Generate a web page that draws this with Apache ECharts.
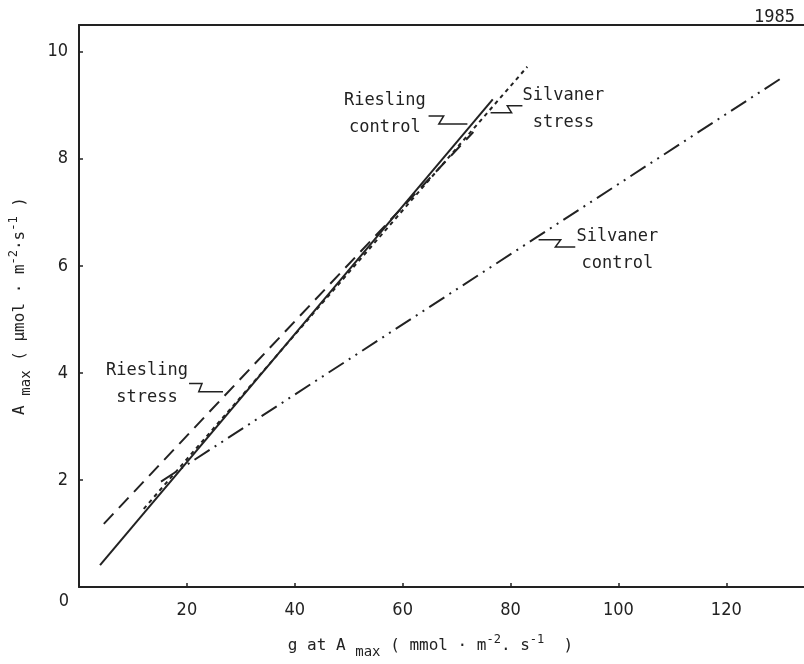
<!DOCTYPE html>
<html>
<head>
<meta charset="utf-8">
<script src="https://cdn.jsdelivr.net/npm/echarts@6/dist/echarts.min.js"></script>
<style>
  html, body { margin: 0; padding: 0; background: #fff; }
  #chart { width: 804px; height: 664px; }
</style>
</head>
<body>
<div id="chart"></div>
<script>
// line end points [g, Amax]
const rieslingControl = [[3.9, 0.41], [76.7, 9.11]];
const rieslingStress = [[4.6, 1.18], [73.1, 8.5]];
const silvanerStress = [[12, 1.46], [83.1, 9.72]];
const silvanerControl = [[15.2, 1.97], [130.4, 9.52]];

// annotation labels: text, centre [g, Amax], leader points
const labelTexts = ['Riesling\ncontrol', 'Silvaner\nstress', 'Silvaner\ncontrol', 'Riesling\nstress'];
const labelCentres = [[56.7, 8.84], [89.8, 8.93], [99.8, 6.29], [12.6, 3.8]];
const leaders = [
  [[64.8, 8.8], [67.6, 8.8], [66.7, 8.65], [72.0, 8.65]],
  [[76.3, 8.86], [80.2, 8.86], [79.4, 8.99], [82.2, 8.99]],
  [[85.2, 6.49], [89.3, 6.49], [88.3, 6.35], [92.0, 6.35]],
  [[20.4, 3.8], [22.8, 3.8], [22.2, 3.65], [26.7, 3.65]]
];

const ink = '#222';
const tickFont = '"Liberation Sans Narrow", "DejaVu Sans Condensed", sans-serif';
const monoFont = '"DejaVu Sans Mono", monospace';

const chart = echarts.init(document.getElementById('chart'));

const nameRich = {
  t: { fontSize: 16, fontFamily: monoFont, color: ink },
  sub: { fontSize: 14, fontFamily: monoFont, color: ink, padding: [12, 0, 0, 0] },
  sup: { fontSize: 12, fontFamily: monoFont, color: ink, padding: [0, 0, 12, 0] }
};

const lineSeries = (name, data, type, width) => ({
  name: name,
  type: 'line',
  data: data,
  symbol: 'none',
  silent: true,
  lineStyle: { color: ink, width: width, type: type }
});

chart.setOption({
  animation: false,
  backgroundColor: '#fff',
  grid: { left: 78, top: 25, right: 0, bottom: 70 },
  title: {
    text: '1985',
    right: 4,
    top: 4,
    textStyle: { fontFamily: monoFont, fontSize: 17, fontWeight: 'normal', color: ink }
  },
  xAxis: [
    {
      type: 'value',
      min: 0,
      max: 134.4,
      interval: 20,
      splitLine: { show: false },
      axisLine: { show: true, lineStyle: { color: ink, width: 2 } },
      axisTick: { show: true, inside: true, length: 4, lineStyle: { color: ink, width: 1.5 } },
      axisLabel: {
        margin: 14,
        showMaxLabel: false,
        fontFamily: tickFont,
        fontSize: 18,
        color: ink,
        formatter: v => (v === 0 ? '' : String(v))
      },
      name: '{t|g at A }{sub|max}{t| ( mmol · m}{sup|-2}{t|. s}{sup|-1}{t|  )}',
      nameLocation: 'middle',
      nameGap: 46,
      nameTextStyle: { padding: [0, 22, 0, 0], rich: nameRich }
    },
    {
      type: 'value',
      position: 'top',
      min: 0,
      max: 134.4,
      splitLine: { show: false },
      axisLine: { show: true, lineStyle: { color: ink, width: 2 } },
      axisTick: { show: false },
      axisLabel: { show: false }
    }
  ],
  yAxis: {
    type: 'value',
    min: 0,
    max: 10.5,
    interval: 2,
    splitLine: { show: false },
    axisLine: { show: true, lineStyle: { color: ink, width: 2 } },
    axisTick: { show: true, inside: true, length: 4, lineStyle: { color: ink, width: 1.5 } },
    axisLabel: {
      margin: 11,
      showMaxLabel: false,
      fontFamily: tickFont,
      fontSize: 18,
      color: ink,
      formatter: v => (v === 0 ? '' : String(v))
    },
    name: '{t|A }{sub|max}{t| ( µmol · m}{sup|-2}{t|·s}{sup|-1}{t| )}',
    nameLocation: 'middle',
    nameGap: 46,
    nameTextStyle: { rich: nameRich }
  },
  series: [
    lineSeries('Riesling control', rieslingControl, 'solid', 2),
    lineSeries('Riesling stress', rieslingStress, [14, 8], 2),
    lineSeries('Silvaner stress', silvanerStress, [4, 4], 2),
    lineSeries('Silvaner control', silvanerControl, [18, 6, 2, 6, 2, 6], 2)
  ]
});

// annotations placed through the chart's own scales
const toPx = p => chart.convertToPixel({ xAxisIndex: 0, yAxisIndex: 0 }, p);
const graphics = [];
labelTexts.forEach((txt, i) => {
  const c = toPx(labelCentres[i]);
  graphics.push({
    type: 'text',
    x: c[0],
    y: c[1],
    silent: true,
    style: {
      text: txt,
      fill: ink,
      font: '17px ' + monoFont,
      align: 'center',
      verticalAlign: 'middle',
      lineHeight: 27
    }
  });
  graphics.push({
    type: 'polyline',
    silent: true,
    shape: { points: leaders[i].map(toPx) },
    style: { stroke: ink, lineWidth: 1.5, fill: null }
  });
});
// origin label sits below-left of the corner
const o = toPx([0, 0]);
graphics.push({
  type: 'text',
  x: o[0] - 15,
  y: o[1] + 14,
  silent: true,
  style: { text: '0', fill: ink, font: '18px ' + tickFont, align: 'center', verticalAlign: 'middle' }
});
chart.setOption({ graphic: graphics });
</script>
</body>
</html>
